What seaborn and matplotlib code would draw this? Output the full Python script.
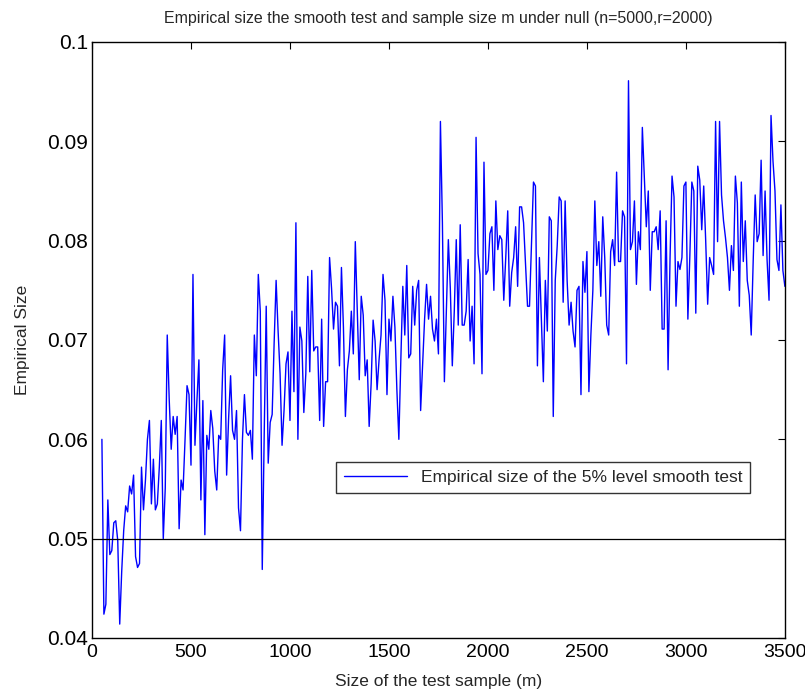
import matplotlib
matplotlib.use("Agg")
import matplotlib.pyplot as plt
import numpy as np
import pandas as pd
import seaborn as sns

# empirical size, m = 50, 60, ..., 3500
size_a = [0.0600, 0.0424, 0.0434, 0.0539, 0.0484, 0.0488, 0.0516, 0.0518, 0.0498, 0.0414,
          0.0467, 0.0508, 0.0533, 0.0527, 0.0553, 0.0545, 0.0564, 0.0482, 0.0471, 0.0475,
          0.0572, 0.0529, 0.0559, 0.0600, 0.0619, 0.0535, 0.0580, 0.0529, 0.0535, 0.0572,
          0.0619, 0.0500, 0.0551, 0.0705, 0.0640, 0.0590, 0.0623, 0.0605, 0.0623]
size_b = [0.0510, 0.0559, 0.0549, 0.0600, 0.0654, 0.0645, 0.0574, 0.0766, 0.0594, 0.0639,
          0.0680, 0.0539, 0.0639, 0.0504, 0.0604, 0.0590, 0.0629, 0.0611, 0.0568, 0.0549,
          0.0604, 0.0600, 0.0670, 0.0705, 0.0564, 0.0621, 0.0664, 0.0609, 0.0600, 0.0629,
          0.0531, 0.0508, 0.0600, 0.0645, 0.0607, 0.0604, 0.0609, 0.0580, 0.0705, 0.0664,
          0.0766, 0.0729, 0.0469, 0.0607, 0.0734]
size_c = [0.0576, 0.0617, 0.0625, 0.0697, 0.0760, 0.0709, 0.0666, 0.0594, 0.0629, 0.0676,
          0.0688, 0.0619, 0.0729, 0.0648, 0.0818, 0.0600, 0.0713, 0.0699, 0.0627, 0.0666,
          0.0764, 0.0668, 0.0770, 0.0689, 0.0693, 0.0693, 0.0619, 0.0721, 0.0613, 0.0658,
          0.0658, 0.0783, 0.0752, 0.0711, 0.0738, 0.0734, 0.0674, 0.0773, 0.0713, 0.0623,
          0.0670, 0.0689, 0.0729]
size_d = [0.0686, 0.0799, 0.0729, 0.0660, 0.0744, 0.0725, 0.0664, 0.0680, 0.0613, 0.0656,
          0.0720, 0.0699, 0.0650, 0.0680, 0.0705, 0.0766, 0.0740, 0.0645, 0.0721, 0.0699,
          0.0744, 0.0713, 0.0650, 0.0600, 0.0680, 0.0754, 0.0705, 0.0775, 0.0682, 0.0686,
          0.0754, 0.0715, 0.0750, 0.0760, 0.0629, 0.0674, 0.0721, 0.0756, 0.0721, 0.0744,
          0.0711, 0.0699, 0.0721, 0.0686]
size_e = [0.0920, 0.0818, 0.0658, 0.0729, 0.0801, 0.0752, 0.0674, 0.0729, 0.0801, 0.0715,
          0.0816, 0.0715, 0.0715, 0.0729, 0.0781, 0.0699, 0.0734, 0.0676, 0.0904, 0.0787,
          0.0766, 0.0666, 0.0879, 0.0766, 0.0770, 0.0807, 0.0814, 0.0750, 0.0840, 0.0791,
          0.0805, 0.0801, 0.0740, 0.0783, 0.0830, 0.0734, 0.0768, 0.0783, 0.0814, 0.0754,
          0.0834, 0.0834, 0.0818, 0.0775]
size_f = [0.0734, 0.0734, 0.0795, 0.0859, 0.0855, 0.0674, 0.0783, 0.0721, 0.0658, 0.0760,
          0.0709, 0.0824, 0.0820, 0.0623, 0.0760, 0.0795, 0.0844, 0.0840, 0.0738, 0.0840,
          0.0760, 0.0715, 0.0738, 0.0709, 0.0693, 0.0750, 0.0754, 0.0645, 0.0779, 0.0748,
          0.0789, 0.0648, 0.0705, 0.0750, 0.0840, 0.0775, 0.0799, 0.0744, 0.0824, 0.0783,
          0.0715, 0.0705, 0.0789, 0.0801]
size_g = [0.0775, 0.0869, 0.0779, 0.0779, 0.0830, 0.0824, 0.0676, 0.0961, 0.0791, 0.0799,
          0.0840, 0.0756, 0.0809, 0.0791, 0.0914, 0.0865, 0.0814, 0.0850, 0.0750, 0.0809,
          0.0809, 0.0814, 0.0791, 0.0830, 0.0711, 0.0711, 0.0820, 0.0670, 0.0783, 0.0865,
          0.0844, 0.0734, 0.0779, 0.0771, 0.0783, 0.0855, 0.0859, 0.0721, 0.0785, 0.0859,
          0.0850, 0.0727, 0.0875, 0.0861]
size_h = [0.0811, 0.0855, 0.0800, 0.0736, 0.0783, 0.0775, 0.0766, 0.0920, 0.0799, 0.0920,
          0.0846, 0.0820, 0.0803, 0.0783, 0.0750, 0.0795, 0.0770, 0.0865, 0.0838, 0.0734,
          0.0859, 0.0779, 0.0820, 0.0760, 0.0745, 0.0705, 0.0780, 0.0846, 0.0799, 0.0807,
          0.0881, 0.0785, 0.0850, 0.0781, 0.0740, 0.0926, 0.0880, 0.0850, 0.0781, 0.0770,
          0.0836, 0.0770, 0.0754]

emp_size = size_a + size_b + size_c + size_d + size_e + size_f + size_g + size_h
m_values = np.arange(50, 50 + 10 * len(emp_size), 10)
nominal_level = 0.05

df = pd.DataFrame({"m": m_values, "size": emp_size})

sns.set_style("white")
plt.rcParams['font.family'] = ['Liberation Sans', 'DejaVu Sans']

fig = plt.figure(figsize=(8.05, 6.94), dpi=100)
ax = fig.add_axes([0.1143, 0.0807, 0.8607, 0.8588])

sns.lineplot(data=df, x="m", y="size", ax=ax, color="#0000ff", linewidth=1.0,
             label="Empirical size of the 5% level smooth test")
ax.axhline(nominal_level, color="black", linewidth=0.9)

ax.set_xlim(0, 3500)
ax.set_ylim(0.04, 0.1)
ax.set_xticks(np.arange(0, 3501, 500))
ax.set_yticks([0.04, 0.05, 0.06, 0.07, 0.08, 0.09, 0.1])
ax.set_yticklabels(["0.04", "0.05", "0.06", "0.07", "0.08", "0.09", "0.1"])
ax.tick_params(direction="in", length=5, width=0.8, top=True, right=True,
               labelsize=15, pad=3, colors="black")
ax.tick_params(axis="x", labelsize=14, pad=4)
for sp in ax.spines.values():
    sp.set_color("black")
    sp.set_linewidth(1.0)

ax.set_title("Empirical size the smooth test and sample size m under null (n=5000,r=2000)",
             fontsize=11.5, pad=14)
ax.set_xlabel("Size of the test sample (m)", fontsize=12.5, labelpad=10)
ax.set_ylabel("Empirical Size", fontsize=12.5, labelpad=12)

leg = ax.legend(loc="center right", bbox_to_anchor=(0.9495, 0.269), fontsize=12.5,
                frameon=True, fancybox=False, handlelength=3.6, borderpad=0.45,
                borderaxespad=0)
leg.get_frame().set_edgecolor("black")
leg.get_frame().set_linewidth(1.0)

fig.savefig("out.png", dpi=100)
